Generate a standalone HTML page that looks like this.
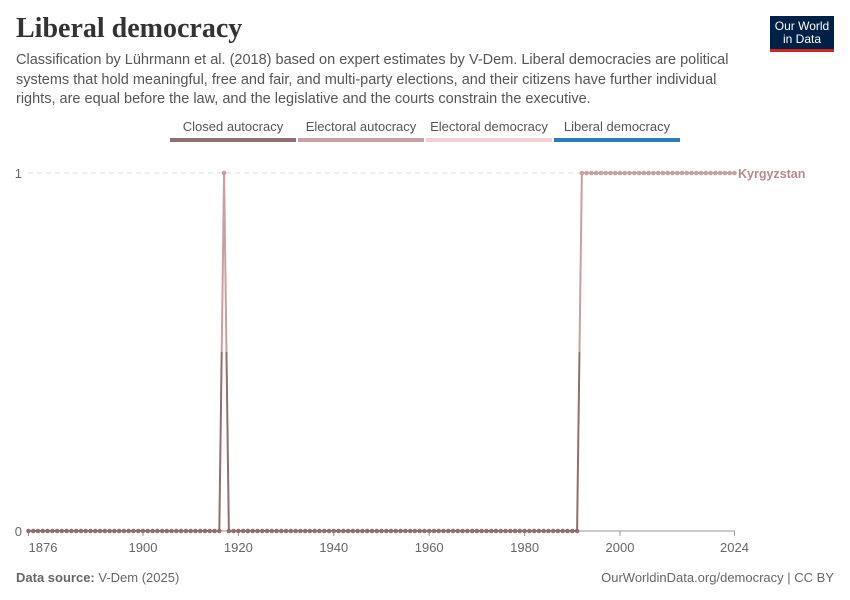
<!DOCTYPE html>
<html><head><meta charset="utf-8"><style>
body{margin:0;width:850px;height:600px;background:#fff;font-family:"Liberation Sans",sans-serif;overflow:hidden;position:relative}
.t{position:absolute;margin:0}
</style></head><body>
<h1 class="t" style="left:16px;top:13px;font-family:'Liberation Serif',serif;font-size:28px;font-weight:600;color:#333">Liberal democracy</h1>
<p class="t" style="left:16px;top:51px;width:730px;font-size:14.5px;line-height:19.5px;color:#555">Classification by Lührmann et al. (2018) based on expert estimates by V-Dem. Liberal democracies are political systems that hold meaningful, free and fair, and multi-party elections, and their citizens have further individual rights, are equal before the law, and the legislative and the courts constrain the executive.</p>
<div class="t" style="left:770px;top:16px;width:64px;height:36px;background:#002147;border-bottom:3px solid #ce261e;color:#fff;font-size:12px;line-height:13px;text-align:center;padding-top:4px;box-sizing:border-box">Our World<br>in Data</div>
<svg id="c" width="850" height="600" style="position:absolute;left:0;top:0"></svg>
<div class="t" style="left:16px;top:570px;font-size:13px;color:#666"><b>Data source:</b> V-Dem (2025)</div>
<div class="t" style="right:16px;top:570px;font-size:13px;color:#666">OurWorldinData.org/democracy | CC BY</div>
<script>
const years=[];for(let y=1876;y<=2024;y++)years.push(y);
const oneYears=[1917];
const oneStart=1992;
const values=years.map(y=>(oneYears.includes(y)||y>=oneStart)?1:0);
const xTicks=[1876,1900,1920,1940,1960,1980,2000,2024];
const yTicks=[0,1];
const legendLabels=["Closed autocracy","Electoral autocracy","Electoral democracy","Liberal democracy"];
const legendColors=["#8f6f72","#c8a0a4","#f4d0d4","#2f7bb8"];
const NS="http://www.w3.org/2000/svg",svg=document.getElementById('c');
const X=y=>28.5+(y-1876)*(734.5-28.5)/(2024-1876);
const Y=v=>531-v*358;
function el(t,a,p){const e=document.createElementNS(NS,t);for(const k in a)e.setAttribute(k,a[k]);(p||svg).appendChild(e);return e;}
yTicks.forEach(v=>{
 const g=el('line',{x1:28,x2:735,y1:Y(v),y2:Y(v),stroke:v?'#ddd':'#999','stroke-dasharray':v?'5,4':'none'});
 
 
 const t=el('text',{x:22,y:Y(v)+5,'text-anchor':'end','font-size':13,fill:'#666'});t.textContent=v;
 
 
});
xTicks.forEach((y,i)=>{
 el('line',{x1:X(y),x2:X(y),y1:531,y2:536,stroke:'#999'});
 const t=el('text',{x:i==0?43:X(y),y:552,'text-anchor':'middle','font-size':13,fill:'#666'});t.textContent=y;
 
 
});
legendLabels.forEach((l,i)=>{
 const x0=170+i*128;
 const t=el('text',{x:x0+63,y:131,'text-anchor':'middle','font-size':13,fill:'#555'});t.textContent=l;
 
 
 const r=el('rect',{x:x0,y:138,width:126,height:4,fill:legendColors[i]});
 
 
});
const col=v=>v?legendColors[1]:legendColors[0];
for(let i=1;i<years.length;i++){
 const a=values[i-1],b=values[i],x1=X(years[i-1]),x2=X(years[i]);
 if(a===b){const s=el('line',{x1,x2,y1:Y(a),y2:Y(b),stroke:col(a),'stroke-width':2});
  
  }
 else{const xm=(x1+x2)/2,ym=(Y(a)+Y(b))/2;
  const s1=el('line',{x1,y1:Y(a),x2:xm,y2:ym,stroke:col(a),'stroke-width':2});
  
  
  const s2=el('line',{x1:xm,y1:ym,x2,y2:Y(b),stroke:col(b),'stroke-width':2});
  
  }
}
years.forEach((y,i)=>{const c=el('circle',{cx:X(y),cy:Y(values[i]),r:2.3,fill:col(values[i])});
 
 });
const lab=el('text',{x:738,y:Y(values[values.length-1])+5,'font-size':12.5,'font-weight':'bold',fill:'#b48a8f'});lab.textContent='Kyrgyzstan';


</script>
</body></html>
